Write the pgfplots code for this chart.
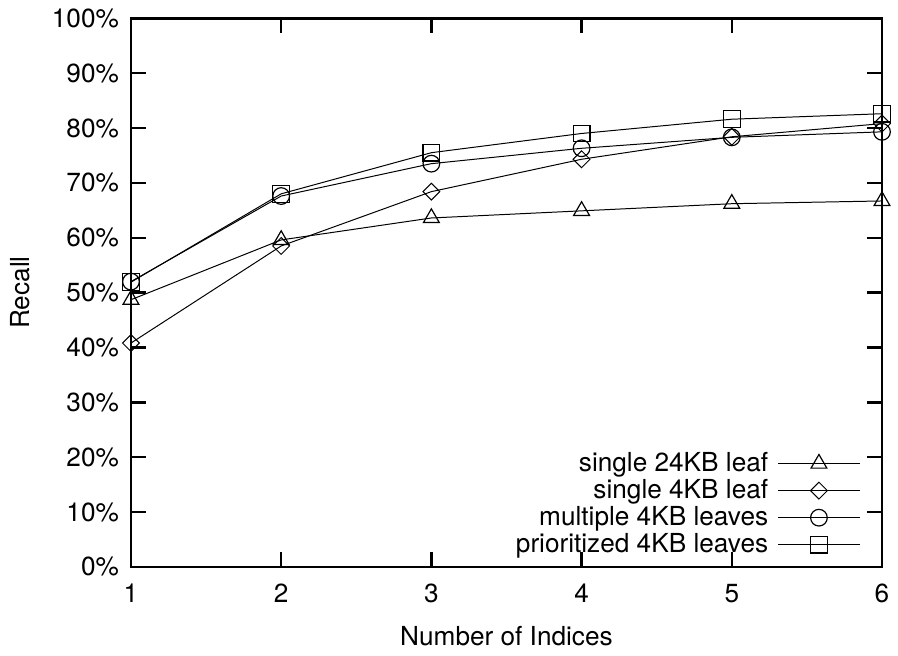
\documentclass[border=0pt]{standalone}
\usepackage{fontspec}
\setmainfont{TeX Gyre Heros}
\usepackage{pgfplots}
\pgfplotsset{compat=1.18}
\usetikzlibrary{calc}

\begin{document}
\fontsize{13.2}{15}\selectfont
\begin{tikzpicture}
\begin{axis}[
  scale only axis,
  width=378.5pt, height=276.5pt,
  xmin=1, xmax=6, ymin=0, ymax=100,
  xtick={1,2,3,4,5,6},
  ytick={0,10,...,100},
  yticklabel={\pgfmathprintnumber{\tick}\%},
  /pgf/number format/assume math mode=true,
  tick align=inside,
  major tick length=7.5pt,
  tick style={line width=1.2pt, black},
  axis line style={line width=1.3pt},
  xlabel={Number of Indices},
  ylabel={Recall},
  xlabel style={yshift=-3pt},
  ylabel style={yshift=2pt},
  every tick label/.append style={font=\fontsize{13.2}{15}\selectfont},
  label style={font=\fontsize{13.2}{15}\selectfont},
  yticklabel style={xshift=-1.5pt},
  xticklabel style={yshift=-4pt},
  legend plot pos=right,
  legend cell align=right,
  legend style={at={(0.974,0.008)}, anchor=south east, draw=none, fill=none,
    font=\fontsize{13.2}{15}\selectfont, row sep=-2pt, inner sep=1pt},
  legend image code/.code={
    \path (0cm,0cm);
    \draw[mark repeat=2,mark phase=2] plot coordinates {(0.1cm,0cm) (0.82cm,0cm) (1.54cm,0cm)};},
  every axis plot/.append style={black, line width=0.5pt, mark options={solid, fill=white, line width=0.6pt}},
]
\addplot[mark=triangle, mark size=4.6pt] coordinates {
(1,48.7) (2,59.6) (3,63.6) (4,64.9) (5,66.2) (6,66.7)};
\addlegendentry{single 24KB leaf}
\addplot[mark=square, mark size=3pt, mark options={rotate=45}] coordinates {
(1,40.8) (2,58.5) (3,68.4) (4,74.3) (5,78.4) (6,80.8)};
\addlegendentry{single 4KB leaf}
\addplot[mark=o, mark size=4.2pt] coordinates {
(1,52.0) (2,67.6) (3,73.5) (4,76.3) (5,78.3) (6,79.3)};
\addlegendentry{multiple 4KB leaves}
\addplot[mark=square, mark size=4.2pt] coordinates {
(1,51.9) (2,68.0) (3,75.5) (4,79.0) (5,81.6) (6,82.6)};
\addlegendentry{prioritized 4KB leaves}
\end{axis}
\useasboundingbox ($(current axis.south west)+(-66pt,-41pt)$) rectangle ($(current axis.north east)+(4.5pt,8.5pt)$);
\end{tikzpicture}
\end{document}
